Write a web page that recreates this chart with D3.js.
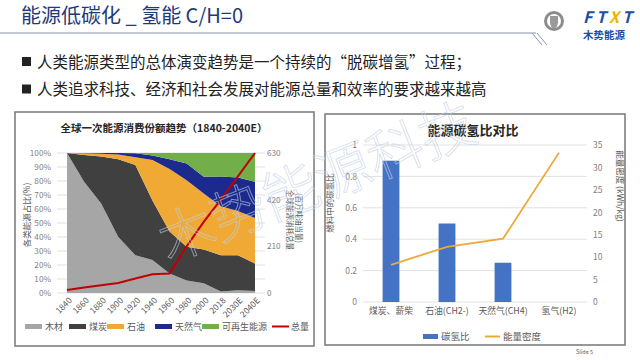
<!DOCTYPE html>
<html><head><meta charset="utf-8">
<script src="https://cdn.jsdelivr.net/npm/d3@7"></script>
<style>body{margin:0;background:#fff}svg{display:block}text{font-family:"Noto Sans CJK SC","Noto Sans",sans-serif}</style>
</head><body>
<svg id="c" width="640" height="360"></svg>
<script>
// ---------- data ----------
const years = ["1840","1860","1880","1900","1920","1940","1960","1980","2000","2018","2030E","2040E"];
const wood  = [100, 79.5, 64, 40, 27, 23.5, 14, 9, 7, 1, 2, 1.5];
const coal  = [0, 19, 33.5, 55.5, 64.5, 42.5, 30, 24, 24, 26, 25, 19.5];
const oil   = [0, 1.3, 2, 3.5, 5.5, 29, 44.5, 47.5, 40, 35, 31.5, 32.5];
const gas   = [0, 0.2, 0.5, 1, 2.8, 3.3, 7, 12, 12, 21.3, 24, 26];
const renew = [0, 0, 0, 0, 0.2, 1.7, 4.5, 7.5, 17, 16.7, 17.5, 20.5];
const total = [13, 25, 35, 45, 65, 84, 88, 210, 320, 420, 525, 630];
const shareNames = ["木材","煤炭","石油","天然气","可再生能源"];
const pctTicks = [0,10,20,30,40,50,60,70,80,90,100];
const totTicks = [0,210,420,630];

const fuels = ["煤炭、薪柴","石油(CH2-)","天然气(CH4)","氢气(H2)"];
const chRatio = [0.9, 0.5, 0.25, 0];
const density = [8.3, 12.3, 14.1, 33.3];
const ratioTicks = [0,0.2,0.4,0.6,0.8,1];
const densTicks = [0,5,10,15,20,25,30,35];

const bullets = ["人类能源类型的总体演变趋势是一个持续的“脱碳增氢”过程；","人类追求科技、经济和社会发展对能源总量和效率的要求越来越高"];

// ---------- page ----------
const svg = d3.select("#c");
svg.append("rect").attr("width",640).attr("height",360).attr("fill","#fff");

svg.append("text").attr("x",21).attr("y",23).attr("font-size",20).attr("fill","#1e3a78")
  .text("能源低碳化 _ 氢能 C/H=0");
svg.append("path").attr("d","M0,33H536").attr("stroke","#8a97ad").attr("stroke-width",1.2).attr("fill","none");
svg.append("path").attr("d","M532,33L542,45M537,33L547,45").attr("stroke","#8a97ad").attr("stroke-width",1).attr("fill","none");
// logo
const lg = svg.append("g");
lg.append("circle").attr("cx",554).attr("cy",21).attr("r",8.5).attr("fill","#fff").attr("stroke","#8c8c8c").attr("stroke-width",3);
lg.append("path").attr("d","M550,16H558V22Q558,27 554,29Q550,27 550,22Z").attr("fill","#9a9a9a");
[["F","#1f4ea0",583],["T","#1f4ea0",596],["X","#f3b400",609],["T","#1f4ea0",622]].forEach(d=>
  lg.append("text").attr("x",d[2]).attr("y",23).attr("font-size",16).attr("font-weight","bold").attr("font-style","italic")
    .attr("font-family","Liberation Sans, Arial").attr("fill",d[1]).text(d[0]));
lg.append("text").attr("x",583).attr("y",39).attr("font-size",10.5).attr("font-weight","bold").attr("fill","#1f4ea0").text("木势能源");

bullets.forEach((b,i)=>{
  const y = 62 + i*27.5;
  svg.append("rect").attr("x",22).attr("y",y-5).attr("width",9).attr("height",9).attr("fill","#222");
  svg.append("text").attr("x",37).attr("y",y+5.5).attr("font-size",15.5).attr("fill","#222").text(b);
});

// frames
svg.append("rect").attr("x",15).attr("y",112).attr("width",299).attr("height",234).attr("fill","none").attr("stroke","#7f7f7f").attr("stroke-width",1.6);
svg.append("rect").attr("x",325).attr("y",114).attr("width",300).attr("height",231).attr("fill","none").attr("stroke","#7f7f7f").attr("stroke-width",1.6);

// ---------- left chart ----------
const L = svg.append("g");
L.append("text").attr("x",164).attr("y",132).attr("text-anchor","middle").attr("font-size",10.5).attr("font-weight","bold").attr("fill","#262626")
  .text("全球一次能源消费份额趋势（1840-2040E）");
const x = d3.scalePoint().domain(years).range([67,255]);
const yP = d3.scaleLinear().domain([0,100]).range([293,153]);
const yT = d3.scaleLinear().domain([0,630]).range([293,153]);

L.selectAll(".g").data(pctTicks).join("line").attr("x1",57).attr("x2",265)
  .attr("y1",d=>yP(d)).attr("y2",d=>yP(d)).attr("stroke","#d9d9d9").attr("stroke-width",0.8);

const rows = years.map((y,i)=>({year:y,"木材":wood[i],"煤炭":coal[i],"石油":oil[i],"天然气":gas[i],"可再生能源":renew[i]}));
const stack = d3.stack().keys(shareNames)(rows);
const colors = {"木材":"#a6a6a6","煤炭":"#404040","石油":"#f1a935","天然气":"#1c2a8e","可再生能源":"#72ae4a"};
const area = d3.area().x(d=>x(d.data.year)).y0(d=>yP(d[0])).y1(d=>yP(d[1]));
L.selectAll(".a").data(stack).join("path").attr("d",area).attr("fill",d=>colors[d.key]);

const line = d3.line().x((d,i)=>x(years[i])).y(d=>yT(d));
L.append("path").attr("d",line(total)).attr("fill","none").attr("stroke","#c00000").attr("stroke-width",2);

const axL = d3.axisLeft(yP).tickValues(pctTicks).tickFormat(d=>d+"%").tickSize(0).tickPadding(0);
const gL = L.append("g").attr("transform","translate(51,0)").call(axL);
const axR = d3.axisRight(yT).tickValues(totTicks).tickSize(0).tickPadding(0);
const gR = L.append("g").attr("transform","translate(267,0)").call(axR);
const axB = d3.axisBottom(x).tickSize(0).tickPadding(0);
const gB = L.append("g").attr("transform","translate(0,297)").call(axB);
[gL,gR,gB].forEach(g=>{g.select(".domain").remove();g.selectAll("text").attr("fill","#7f7f7f").attr("font-size",8.2).attr("font-family","Noto Sans CJK SC");});
gB.selectAll("text").attr("text-anchor","end").attr("dy",0).attr("transform","translate(5,4) rotate(-45)").attr("fill","#595959").attr("font-size",8.5);

L.append("text").attr("transform","translate(30,215) rotate(-90)").attr("text-anchor","middle").attr("font-size",8.5).attr("fill","#595959").text("各类能源占比(%)");
L.append("text").attr("transform","translate(287,220) rotate(90)").attr("text-anchor","middle").attr("font-size",7.5).attr("fill","#595959").text("全球能源消耗总量");
L.append("text").attr("transform","translate(296,218) rotate(90)").attr("text-anchor","middle").attr("font-size",7.5).attr("fill","#595959").text("(百万吨油当量)");

// left legend
const legL = [["木材",25],["煤炭",69],["石油",107],["天然气",155],["可再生能源",202]];
legL.forEach(([k,lx])=>{
  L.append("rect").attr("x",lx).attr("y",324).attr("width",17).attr("height",5).attr("fill",colors[k]);
  L.append("text").attr("x",lx+20).attr("y",330).attr("font-size",9).attr("fill","#595959").text(k);
});
L.append("line").attr("x1",272).attr("x2",289).attr("y1",326.5).attr("y2",326.5).attr("stroke","#c00000").attr("stroke-width",2);
L.append("text").attr("x",291).attr("y",330).attr("font-size",9).attr("fill","#595959").text("总量");

// ---------- right chart ----------
const R = svg.append("g");
R.append("text").attr("x",473).attr("y",135).attr("text-anchor","middle").attr("font-size",13).attr("font-weight","bold").attr("fill","#262626").text("能源碳氢比对比");
const xb = d3.scaleBand().domain(fuels).range([363,587]);
const yL = d3.scaleLinear().domain([0,1]).range([302,145]);
const yD = d3.scaleLinear().domain([0,35]).range([302,145]);
R.selectAll(".gl").data(ratioTicks).join("line").attr("x1",363).attr("x2",587)
  .attr("y1",d=>yL(d)).attr("y2",d=>yL(d)).attr("stroke","#d9d9d9").attr("stroke-width",0.8);
const bw = xb.bandwidth()*0.3;
R.selectAll(".b").data(chRatio).join("rect").attr("x",(d,i)=>xb(fuels[i])+xb.bandwidth()/2-bw/2)
  .attr("width",bw).attr("y",d=>yL(d)).attr("height",d=>yL(0)-yL(d)).attr("fill","#4472c4");
const dl = d3.line().x((d,i)=>xb(fuels[i])+xb.bandwidth()/2).y(d=>yD(d));
R.append("path").attr("d",dl(density)).attr("fill","none").attr("stroke","#eba93a").attr("stroke-width",1.8);

const a1 = R.append("g").attr("transform","translate(357,0)").call(d3.axisLeft(yL).tickValues(ratioTicks).tickFormat(d3.format("~g")).tickSize(0).tickPadding(0));
const a2 = R.append("g").attr("transform","translate(593,0)").call(d3.axisRight(yD).tickValues(densTicks).tickSize(0).tickPadding(0));
const a3 = R.append("g").attr("transform","translate(0,308)").call(d3.axisBottom(xb).tickSize(0).tickPadding(0));
[a1,a2,a3].forEach(g=>{g.select(".domain").remove();g.selectAll("text").attr("fill","#7f7f7f").attr("font-size",8.5).attr("font-family","Noto Sans CJK SC");});
a3.selectAll("text").attr("fill","#595959").attr("font-size",8.8);

R.append("text").attr("transform","translate(333,203) rotate(-90)").attr("text-anchor","middle").attr("font-size",8.5).attr("fill","#595959").text("燃料中的碳氢比");
R.append("text").attr("transform","translate(617,186) rotate(90)").attr("text-anchor","middle").attr("font-size",8.5).attr("fill","#595959").text("能量密度 (kWh/kg)");

R.append("rect").attr("x",423).attr("y",334).attr("width",15).attr("height",5).attr("fill","#4472c4");
R.append("text").attr("x",441).attr("y",340).attr("font-size",9.5).attr("fill","#595959").text("碳氢比");
R.append("line").attr("x1",485).attr("x2",500).attr("y1",336.5).attr("y2",336.5).attr("stroke","#eba93a").attr("stroke-width",2);
R.append("text").attr("x",503).attr("y",340).attr("font-size",9.5).attr("fill","#595959").text("能量密度");

svg.append("text").attr("x",576).attr("y",354).attr("font-size",5.5).attr("fill","#595959").text("Slide 5");

// watermark
svg.append("text").attr("transform","translate(168,262) rotate(-21.5)").attr("font-size",56).attr("font-weight",200)
  .attr("fill","none").attr("stroke","#c3d0e4").attr("stroke-width",1).attr("opacity",0.6).attr("letter-spacing",0).text("木势能源科技");
</script>
</body></html>
